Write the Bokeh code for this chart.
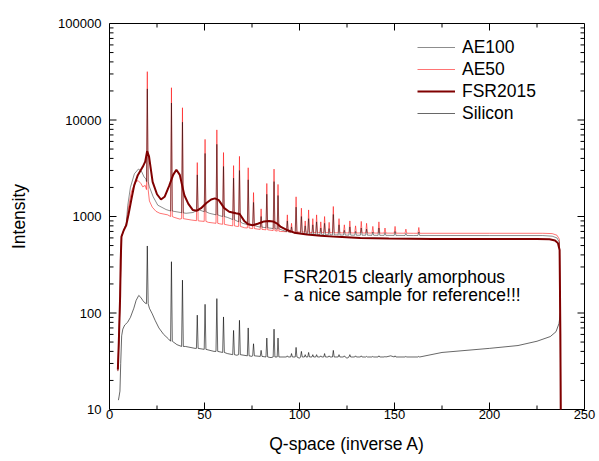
import numpy as np
from bokeh.plotting import figure
from bokeh.models import (FixedTicker, Legend, LegendItem, Range1d, PrintfTickFormatter)
from bokeh.embed import file_html
from bokeh.resources import INLINE
from bokeh.core.properties import value

FONT = "Liberation Sans"

# ---------------- data ----------------
# shared Bragg peak positions (Q)
peak_q = [19.9, 32.6, 38.4, 46.2, 50.3, 56.5, 60.0, 65.3, 68.4, 73.0, 75.8, 79.8, 82.8,
          86.6, 88.7, 93.6, 95.8, 98.2, 101.0, 103.0, 104.8, 107.0, 109.0, 111.2, 113.2,
          115.6, 117.8, 120.8, 123.6, 126.5, 129.5, 132.5, 135.3, 138.6, 141.8, 145.0,
          150.3, 156.0, 162.8]

# AE100 (black)
ae100_bg_q = [4.4, 4.9, 5.6, 6.3, 7.5, 8.8, 9.6, 11.0, 13.1, 15.2, 16.8, 18.2, 19.2, 21.0,
              23.0, 25.4, 29.8, 34.0, 37.5, 40.3, 44.0, 47.3, 52.5, 58.0, 62.0, 66.0,
              70.0, 74.0, 78.8, 84.0, 88.0, 92.8, 100.0, 110.0, 130.0, 160.0, 200.0,
              228.0, 233.0, 235.5, 236.8, 237.3, 237.5]
ae100_bg_i = [25, 50, 150, 620, 720, 850, 1300, 2000, 2770, 3100, 2950, 2570, 2450, 2030,
              1600, 1310, 1180, 1130, 1100, 1080, 1100, 1170, 1080, 1020, 980, 920,
              850, 820, 780, 760, 740, 700, 670, 650, 640, 635, 635,
              635, 625, 600, 540, 60, 9]
ae100_peak_i = [21000, 15000, 9500, 2700, 4500, 5600, 3300, 2500, 3000, 2400, 1400, 1000,
                1700, 2300, 1650, 900, 780, 1250, 1000, 800, 950, 820, 880, 760, 850,
                750, 1050, 820, 720, 780, 700, 760, 740, 690, 760, 680, 700, 670, 690]
ae100_peak_base = [2300, 1140, 1090, 1150, 1120, 1040, 1000, 930, 880, 825, 805, 775, 765,
                   750, 745, 695, 685, 675, 668, 664, 660, 655, 651, 649, 648, 646, 645,
                   644, 642, 641, 640, 640, 640, 639, 638, 638, 637, 636, 636]

# AE50 (red)
ae50_bg_q = [4.4, 4.9, 5.6, 6.3, 7.5, 8.8, 10.0, 11.5, 13.5, 15.0, 16.5, 17.5, 18.8, 21.0,
             22.5, 24.5, 26.5, 30.6, 34.0, 37.0, 43.0, 47.0, 52.0, 58.0, 63.0, 67.0,
             71.0, 78.0, 85.0, 90.0, 95.0, 100.0, 110.0, 130.0, 160.0, 200.0, 228.0,
             233.0, 235.5, 236.8, 237.3, 237.5]
ae50_bg_i = [25, 50, 150, 620, 720, 830, 1250, 1800, 2250, 2360, 2200, 2030, 2100, 1450,
             1250, 1130, 1080, 1040, 980, 940, 920, 900, 870, 840, 810, 790,
             765, 740, 720, 700, 690, 690, 680, 675, 670, 670, 670,
             665, 640, 580, 60, 9]
ae50_peak_i = [31700, 21600, 13400, 3620, 6300, 7900, 4600, 3370, 4200, 3200, 1770, 1200,
               2200, 3100, 2150, 1040, 850, 1600, 1220, 900, 1170, 950, 1040, 880, 1000,
               870, 1270, 950, 820, 900, 800, 890, 850, 790, 880, 760, 790, 740, 770]
ae50_peak_base = [1900, 1000, 950, 905, 890, 850, 830, 800, 790, 760, 750, 735, 728, 715,
                  705, 695, 692, 690, 690, 688, 685, 682, 680, 680, 680, 679, 678, 677,
                  676, 676, 675, 675, 674, 674, 673, 673, 672, 671, 670]

# FSR2015 (dark red, amorphous)
fsr_q = [4.4, 4.9, 5.6, 5.9, 6.3, 7.5, 8.8, 10.0, 11.5, 13.0, 14.9, 17.5, 18.8, 19.8, 20.8,
         22.7, 25.0, 27.1, 29.0, 31.5, 33.5, 35.2, 37.0, 39.4, 41.5, 43.8, 46.0, 48.2,
         51.0, 53.5, 55.5, 57.5, 60.4, 63.0, 66.5, 68.5, 70.9, 73.0, 75.3, 78.0, 81.4,
         84.0, 86.0, 88.0, 90.2, 93.0, 97.2, 104.0, 111.2, 120.0, 132.0, 147.0, 170.0,
         200.0, 225.0, 231.6, 234.5, 236.0, 236.9, 237.3, 237.5]
fsr_i = [26, 50, 150, 350, 620, 720, 810, 1050, 1500, 2100, 2680, 3270, 3700, 4750, 4200,
         2280, 1700, 1500, 1600, 2100, 2700, 3050, 2700, 1660, 1350, 1170, 1150, 1220,
         1380, 1500, 1540, 1480, 1220, 1120, 1080, 1060, 900, 830, 810, 840, 890,
         900, 890, 850, 780, 730, 680, 650, 630, 615, 600, 590, 585,
         585, 583, 580, 565, 530, 450, 60, 9]

# Silicon (black, bottom)
si_bg_q = [4.7, 5.0, 5.5, 5.9, 6.4, 7.0, 8.0, 9.5, 11.0, 12.8, 14.0, 15.4, 16.5, 17.5, 18.5,
           19.3, 21.0, 22.5, 24.0, 26.0, 28.5, 31.0, 35.5, 40.0, 45.0, 55.0, 62.0, 67.0,
           75.0, 85.0, 100.0, 125.0, 148.0, 175.0, 200.0, 215.0, 225.0, 232.0, 235.0,
           236.6, 237.3]
si_bg_i = [12.5, 13.5, 15.5, 30, 58, 68, 75, 80, 90, 112, 135, 152, 145, 135, 128,
           125, 112, 98, 84, 70, 60, 54, 47, 45, 43, 40, 38, 36.5,
           35.5, 34.5, 34, 34, 36, 39, 43, 46, 51, 57, 64,
           78, 100]
si_peak_i = [495, 340, 219, 95, 123, 141, 91, 66, 84, 70, 48, 41, 55, 68, 55, 36, 38, 44,
             40, 37, 39, 37, 37, 36, 38, 36, 41, 37, 36, 37, 36, 36, 35.5, 35.5, 36, 35.5,
             36, 35.5, 35.5]
si_peak_base = [125, 51, 45, 43, 42, 40, 39, 37, 37, 36, 36, 35.5, 35, 35, 35, 35, 35, 35,
                35, 35, 35, 35, 35, 35, 35, 35, 35, 35, 35, 35, 35, 35, 35, 35, 35, 35,
                35, 35, 35]

x_ticks = [0, 50, 100, 150, 200, 250]
x_minor = [25, 75, 125, 175, 225]
y_ticks = [10, 100, 1000, 10000, 100000]
y_minor = [m * d for d in (10, 100, 1000, 10000) for m in range(2, 10)]

note_q = [91.5, 91.5]
note_i = [237, 152]
note_lines = ["FSR2015 clearly amorphous", "- a nice sample for reference!!!"]


def series(bg_q, bg_i, pk_q, pk_i, pk_base, hw=0.45):
    xs = list(bg_q)
    ys = list(bg_i)
    for q, h, b in zip(pk_q, pk_i, pk_base):
        xs += [q - hw, q, q + hw]
        ys += [b, h, b]
    order = np.argsort(np.array(xs), kind="stable")
    return np.array(xs)[order], np.array(ys)[order]


ae100_x, ae100_y = series(ae100_bg_q, ae100_bg_i, peak_q, ae100_peak_i, ae100_peak_base)
ae50_x, ae50_y = series(ae50_bg_q, ae50_bg_i, peak_q, ae50_peak_i, ae50_peak_base)
si_x, si_y = series(si_bg_q, si_bg_i, peak_q, si_peak_i, si_peak_base)

X0, X1, Y0, Y1 = 0.0, 250.0, 10.0, 100000.0
FW, FH = 475, 386

# ---------------- figure ----------------
p = figure(frame_width=FW, frame_height=FH, y_axis_type="log",
           x_range=Range1d(X0, X1), y_range=Range1d(Y0, Y1),
           output_backend="svg", toolbar_location=None,
           min_border_left=109, min_border_right=14, min_border_top=23,
           min_border_bottom=51)
p.background_fill_color = "white"
p.border_fill_color = "white"
p.outline_line_color = "black"
p.outline_line_width = 1
p.xgrid.visible = False
p.ygrid.visible = False

r_ae50 = p.line(ae50_x, ae50_y, line_color="#ff0000", line_width=0.55)
r_ae100 = p.line(ae100_x, ae100_y, line_color="#000000", line_width=0.45)
r_si = p.line(si_x, si_y, line_color="#000000", line_width=0.6)
r_fsr = p.line(fsr_q, fsr_i, line_color="#800000", line_width=2)


# inward tick marks on all four sides (lengths in px converted to data units)
def vfac(px):
    return float((Y1 / Y0) ** (px / FH))


def hlen(px):
    return float((X1 - X0) * px / FW)


for ticks, ln in ((x_ticks, 7), (x_minor, 4)):
    n = len(ticks)
    p.segment(x0=ticks, y0=[Y0] * n, x1=ticks, y1=[Y0 * vfac(ln)] * n,
              line_color="black", line_width=1)
    p.segment(x0=ticks, y0=[Y1] * n, x1=ticks, y1=[Y1 / vfac(ln)] * n,
              line_color="black", line_width=1)
for ticks, ln in ((y_ticks, 7), (y_minor, 4)):
    n = len(ticks)
    p.segment(x0=[X0] * n, y0=ticks, x1=[X0 + hlen(ln)] * n, y1=ticks,
              line_color="black", line_width=1)
    p.segment(x0=[X1] * n, y0=ticks, x1=[X1 - hlen(ln)] * n, y1=ticks,
              line_color="black", line_width=1)

p.text(x=note_q, y=note_i, text=note_lines, text_font=value(FONT),
       text_font_size="17.5px", text_color="#000000", text_baseline="middle",
       text_align="left")


def style(ax):
    ax.axis_line_color = None
    ax.major_tick_in = 0
    ax.major_tick_out = 0
    ax.minor_tick_in = 0
    ax.minor_tick_out = 0
    ax.major_tick_line_color = None
    ax.minor_tick_line_color = None
    ax.major_label_text_font = FONT
    ax.major_label_text_font_size = "13px"
    ax.major_label_text_color = "black"
    ax.axis_label_text_font = FONT
    ax.axis_label_text_font_size = "17.5px"
    ax.axis_label_text_font_style = "normal"
    ax.axis_label_text_color = "black"


xa = p.xaxis[0]
xa.ticker = FixedTicker(ticks=x_ticks, minor_ticks=x_minor)
xa.axis_label = "Q-space (inverse A)"
style(xa)
xa.major_label_standoff = 0
xa.axis_label_standoff = 12

ya = p.yaxis[0]
ya.ticker = FixedTicker(ticks=y_ticks, minor_ticks=y_minor)
ya.formatter = PrintfTickFormatter(format="%d")
ya.axis_label = "Intensity"
style(ya)
ya.major_label_standoff = 8
ya.axis_label_standoff = 26

legend = Legend(items=[LegendItem(label="AE100", renderers=[r_ae100]),
                       LegendItem(label="AE50", renderers=[r_ae50]),
                       LegendItem(label="FSR2015", renderers=[r_fsr]),
                       LegendItem(label="Silicon", renderers=[r_si])],
                location=(308, 285))
legend.label_text_font = FONT
legend.label_text_font_size = "17.5px"
legend.label_text_color = "black"
legend.glyph_width = 38
legend.glyph_height = 22
legend.label_height = 22
legend.spacing = 0
legend.label_standoff = 7
legend.padding = 0
legend.margin = 0
legend.border_line_color = None
legend.background_fill_alpha = 0
p.add_layout(legend)

open("out.html", "w").write(file_html(p, INLINE))
